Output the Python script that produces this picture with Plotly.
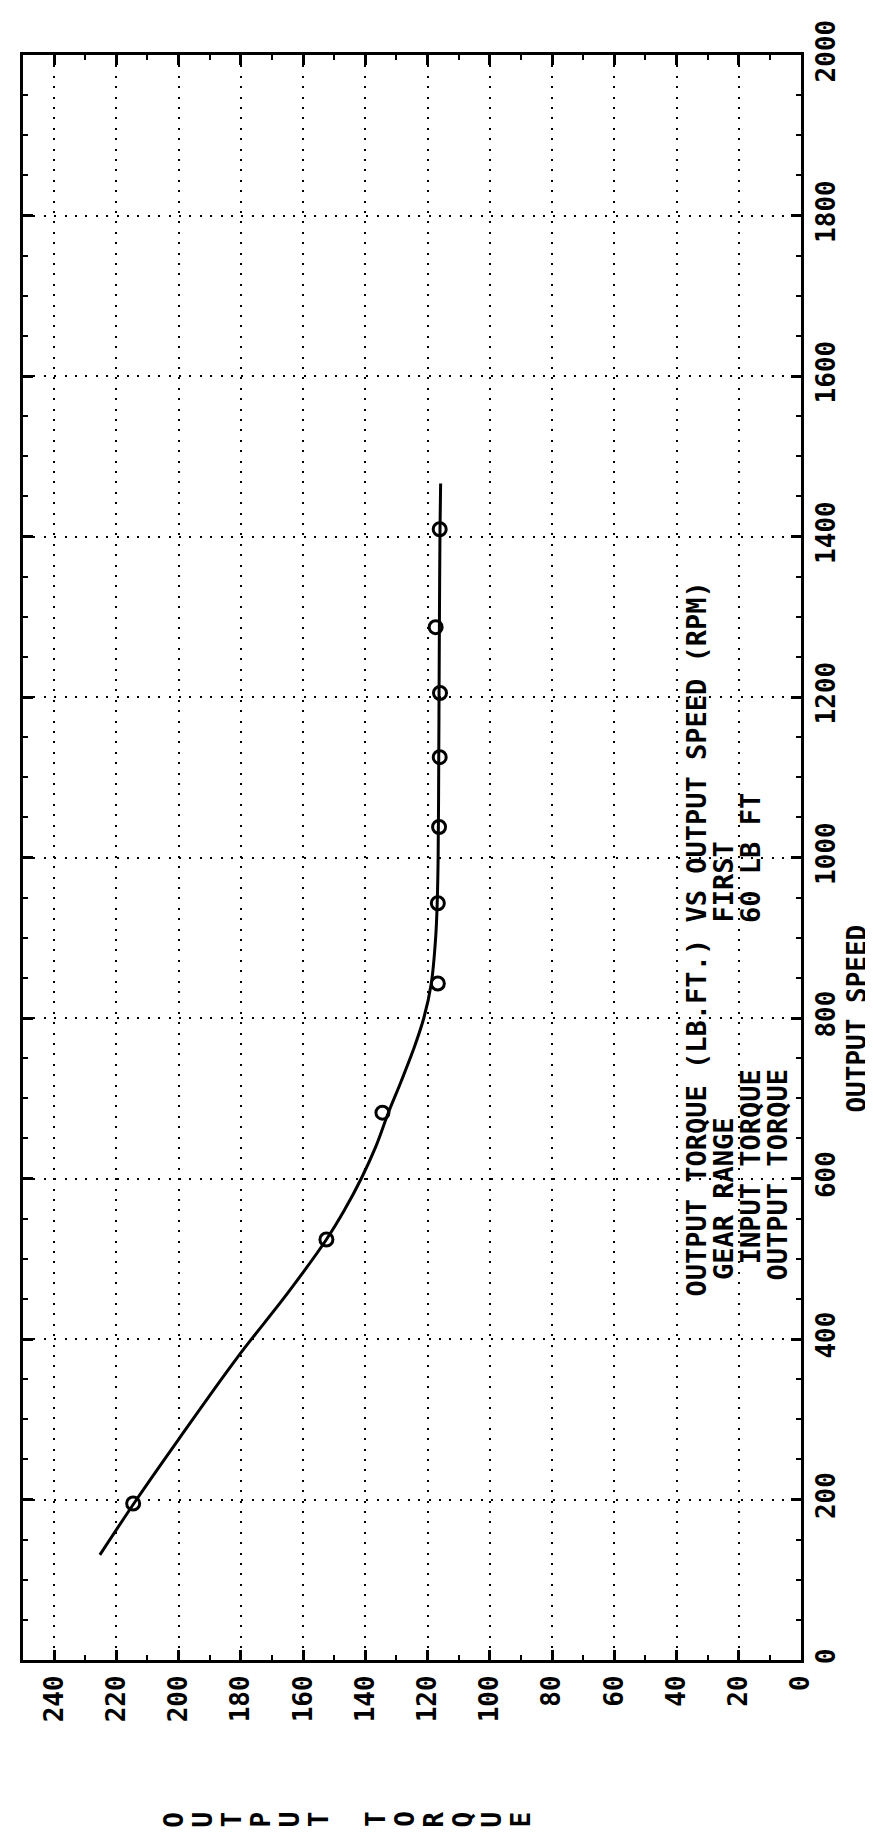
import plotly.graph_objects as go

# ---- data ----
curve_speed = [131, 200, 275, 375, 459, 524, 560, 600, 640, 682, 720, 760, 800, 843, 900, 943, 1000, 1125, 1205, 1287, 1409, 1466]
curve_torque = [225.3, 213.5, 200.0, 181.5, 164.6, 152.5, 146.8, 141.3, 136.6, 132.6, 128.6, 124.6, 121.2, 118.8, 117.4, 116.9, 116.6, 116.4, 116.3, 116.2, 116.0, 115.8]

point_speed = [195, 524, 682, 843, 943, 1038, 1125, 1205, 1287, 1409]
point_torque = [214.6, 152.5, 134.5, 116.7, 116.7, 116.3, 116.1, 116.0, 117.4, 116.1]

torque_ticks = list(range(0, 241, 20))
speed_ticks = list(range(0, 2001, 200))

info_left = ["OUTPUT TORQUE (LB.FT.) ", " GEAR RANGE", "  INPUT TORQUE", " OUTPUT TORQUE"]
info_right = ["VS OUTPUT SPEED (RPM)", "FIRST", "60 LB FT", ""]
speed_title = "OUTPUT SPEED"
torque_title = "OUTPUT TORQUE"

# ---- figure ----
W, H = 873, 1838
ML, MR, MT, MB = 12, 80, 40, 186
PW, PH = W - ML - MR, H - MT - MB

def px2paper_x(px):
    return (px - ML) / PW

def px2paper_y(py):
    return (H - MB - py) / PH

FONT = "DejaVu Sans Mono"
fig = go.Figure()

fig.add_trace(go.Scatter(
    x=curve_torque, y=curve_speed, mode="lines",
    line=dict(color="black", width=3, shape="spline", smoothing=1.0),
    hoverinfo="skip"))

fig.add_trace(go.Scatter(
    x=point_torque, y=point_speed, mode="markers",
    marker=dict(symbol="circle-open", size=13, color="black", line=dict(width=3)),
    hoverinfo="skip"))

axis_common = dict(
    showline=True, linecolor="black", linewidth=3, mirror="ticks",
    ticks="inside", ticklen=10, tickwidth=2.5, tickcolor="black",
    showgrid=True, gridcolor="black", gridwidth=2, griddash="2px,8.4px",
    zeroline=False, tickangle=-90,
    tickfont=dict(family=FONT, size=26, color="black", weight="bold"),
)

fig.update_xaxes(
    range=[250, 0], tickmode="array", tickvals=torque_ticks,
    ticklabelstandoff=2,
    minor=dict(tick0=0, dtick=10, ticks="inside", ticklen=5, tickwidth=2,
               tickcolor="black", showgrid=False),
    **axis_common)

fig.update_yaxes(
    range=[0, 2000], side="right", tickmode="array", tickvals=speed_ticks,
    ticklabelstandoff=0,
    minor=dict(tick0=0, dtick=50, ticks="inside", ticklen=5, tickwidth=2,
               tickcolor="black", showgrid=False),
    **axis_common)

annotations = []
# info block (rotated, reading upward); right column aligned at column 23
col = 23
line_x = [688, 715, 742, 769]
for left, right, lx in zip(info_left, info_right, line_x):
    txt = (left.ljust(col) + right) if right else left
    annotations.append(dict(
        text=txt.replace(" ", "\u00a0"), xref="paper", yref="paper",
        x=px2paper_x(lx), y=px2paper_y(1289), xanchor="center", yanchor="bottom",
        textangle=-90, showarrow=False,
        font=dict(family=FONT, size=27, color="black", weight="bold")))

# speed axis title
annotations.append(dict(
    text=speed_title.replace(" ", "\u00a0"), xref="paper", yref="paper",
    x=px2paper_x(849), y=px2paper_y(1008), xanchor="center", yanchor="middle",
    textangle=-90, showarrow=False,
    font=dict(family=FONT, size=26, color="black", weight="bold")))

# torque axis title: letters placed left to right, each rotated
start_px, step_px = 164, 29
for i, ch in enumerate(torque_title):
    if ch == " ":
        continue
    annotations.append(dict(
        text=ch, xref="paper", yref="paper",
        x=px2paper_x(start_px + i * step_px), y=px2paper_y(1812),
        xanchor="center", yanchor="middle", textangle=-90, showarrow=False,
        font=dict(family=FONT, size=26, color="black", weight="bold")))

fig.update_layout(
    width=W, height=H, margin=dict(l=ML, r=MR, t=MT, b=MB),
    plot_bgcolor="white", paper_bgcolor="white", showlegend=False,
    annotations=annotations,
)

fig.write_html("out.html")
